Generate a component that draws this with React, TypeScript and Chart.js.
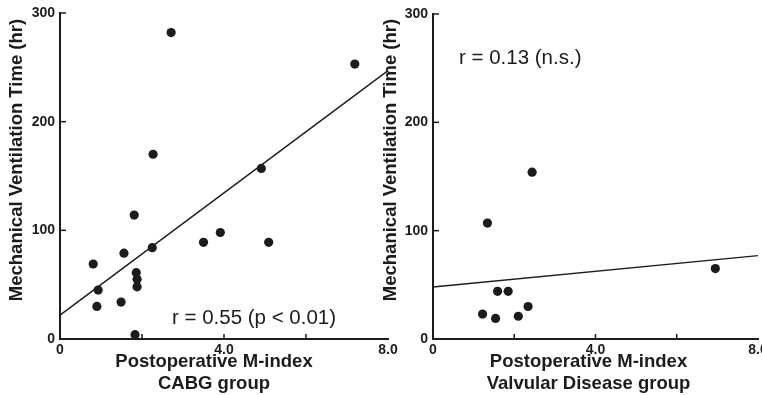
import React, { useEffect, useRef } from "react";
import { Chart, registerables } from "chart.js";

Chart.register(...registerables);

// ---------- data ----------
const cabgX = [2.71, 7.19, 2.27, 4.91, 1.81, 3.5, 3.91, 5.09, 2.25, 1.56, 0.81, 1.86, 1.88, 1.88, 0.93, 0.9, 1.49, 1.83];
const cabgY = [282, 253, 170, 157, 114, 89, 98, 89, 84, 79, 69, 61, 55, 48, 45, 30, 34, 4];
const cabgFitX = [0, 8];
const cabgFitY = [22, 247];

const valvX = [2.44, 1.34, 1.59, 1.85, 1.22, 1.54, 2.1, 2.34, 6.95];
const valvY = [154, 107, 44, 44, 23, 19, 21, 30, 65];
const valvFitX = [0, 8];
const valvFitY = [48, 77];

const xTickValues = [0, 2, 4, 6, 8];
const xTickLabels = ["0", "", "4.0", "", "8.0"];
const yTickValues = [0, 100, 200, 300];
const yTickLabels = ["0", "100", "200", "300"];

const yTitle = "Mechanical Ventilation Time (hr)";
const xTitle1 = "Postoperative M-index";
const cabgGroup = "CABG group";
const valvGroup = "Valvular Disease group";
const cabgStat = "r = 0.55 (p < 0.01)";
const valvStat = "r = 0.13 (n.s.)";

// ---------- styles ----------
const INK = "#1c1c1c";
const FONT = '"Liberation Sans", Arial, Helvetica, sans-serif';

type PanelSpec = {
  xs: number[];
  ys: number[];
  fx: number[];
  fy: number[];
  yAxisWidth: number;
  padTop: number;
  padRight: number;
  xAxisHeight: number;
  group: string;
  stat: string;
  statDx: number;
  statY: number;
  yTitleX: number;
  titleDx: number;
};

function makeTextPlugin(spec: PanelSpec) {
  return {
    id: "panelTexts",
    afterDraw(chart: any) {
      const { ctx, chartArea, scales } = chart;
      const xs = scales.x;
      const ys = scales.y;
      ctx.save();
      // inward tick marks
      ctx.strokeStyle = INK;
      ctx.lineWidth = 1.5;
      ys.ticks.forEach((t: any) => {
        if (t.value === 0) return;
        const py = ys.getPixelForValue(t.value);
        ctx.beginPath();
        ctx.moveTo(chartArea.left, py);
        ctx.lineTo(chartArea.left + 6, py);
        ctx.stroke();
      });
      xs.ticks.forEach((t: any) => {
        if (t.value === 0 || t.value === 8) return;
        const px = xs.getPixelForValue(t.value);
        ctx.beginPath();
        ctx.moveTo(px, chartArea.bottom);
        ctx.lineTo(px, chartArea.bottom - 5);
        ctx.stroke();
      });
      ctx.fillStyle = INK;
      // y title
      ctx.save();
      ctx.translate(spec.yTitleX, 160);
      ctx.rotate(-Math.PI / 2);
      ctx.font = `bold 18.5px ${FONT}`;
      ctx.textAlign = "center";
      ctx.textBaseline = "middle";
      ctx.fillText(yTitle, 0, 0);
      ctx.restore();
      // x titles
      ctx.font = `bold 18.5px ${FONT}`;
      ctx.textAlign = "center";
      ctx.textBaseline = "middle";
      const cx = (chartArea.left + chartArea.right) / 2 + spec.titleDx;
      ctx.fillText(xTitle1, cx, 362);
      ctx.fillText(spec.group, cx, 384);
      // stat text
      ctx.font = `20.5px ${FONT}`;
      ctx.textAlign = "left";
      ctx.fillText(spec.stat, chartArea.left + spec.statDx, spec.statY);
      ctx.restore();
    },
  };
}

function buildChart(canvas: HTMLCanvasElement, spec: PanelSpec) {
  const pts = spec.xs.map((x, i) => ({ x, y: spec.ys[i] }));
  const fit = spec.fx.map((x, i) => ({ x, y: spec.fy[i] }));
  return new Chart(canvas, {
    type: "scatter",
    data: {
      datasets: [
        {
          data: pts,
          backgroundColor: INK,
          borderWidth: 0,
          pointRadius: 4.6,
          pointHoverRadius: 4.6,
          clip: false as any,
        },
        {
          data: fit,
          showLine: true,
          borderColor: INK,
          borderWidth: 1.4,
          pointRadius: 0,
          fill: false,
          clip: false as any,
        },
      ],
    },
    options: {
      animation: false,
      responsive: false,
      devicePixelRatio: 1,
      events: [],
      layout: {
        autoPadding: false,
        padding: { left: 0, top: spec.padTop, right: spec.padRight, bottom: 0 },
      },
      plugins: {
        legend: { display: false },
        tooltip: { enabled: false },
      },
      scales: {
        x: {
          type: "linear",
          min: 0,
          max: 8,
          afterBuildTicks: (s: any) => {
            s.ticks = xTickValues.map((v) => ({ value: v }));
          },
          afterFit: (s: any) => {
            s.height = spec.xAxisHeight;
            s.paddingLeft = 0;
            s.paddingRight = 0;
          },
          ticks: {
            autoSkip: false,
            maxRotation: 0,
            padding: 3,
            color: INK,
            font: { family: FONT, size: 14, weight: "bold" },
            callback: (v: any) => {
              const i = xTickValues.indexOf(Number(v));
              return i >= 0 ? xTickLabels[i] : "";
            },
          },
          grid: { display: false, drawTicks: false },
          border: { display: true, color: INK, width: 2 },
        },
        y: {
          type: "linear",
          min: 0,
          max: 300,
          afterBuildTicks: (s: any) => {
            s.ticks = yTickValues.map((v) => ({ value: v }));
          },
          afterFit: (s: any) => {
            s.width = spec.yAxisWidth;
            s.paddingTop = 0;
            s.paddingBottom = 0;
          },
          ticks: {
            padding: 5,
            color: INK,
            font: { family: FONT, size: 14, weight: "bold" },
            callback: (v: any) => {
              const i = yTickValues.indexOf(Number(v));
              return i >= 0 ? yTickLabels[i] : "";
            },
          },
          grid: { display: false, drawTicks: false },
          border: { display: true, color: INK, width: 2 },
        },
      },
    },
    plugins: [makeTextPlugin(spec)],
  } as any);
}

export default function App() {
  const leftRef = useRef<HTMLCanvasElement>(null);
  const rightRef = useRef<HTMLCanvasElement>(null);

  useEffect(() => {
    document.body.style.margin = "0";
    const left = buildChart(leftRef.current!, {
      xs: cabgX,
      ys: cabgY,
      fx: cabgFitX,
      fy: cabgFitY,
      yAxisWidth: 60,
      padTop: 13,
      padRight: 12,
      xAxisHeight: 56,
      group: cabgGroup,
      stat: cabgStat,
      statDx: 112,
      statY: 318,
      yTitleX: 17,
      titleDx: -10,
    });
    const right = buildChart(rightRef.current!, {
      xs: valvX,
      ys: valvY,
      fx: valvFitX,
      fy: valvFitY,
      yAxisWidth: 61,
      padTop: 14,
      padRight: 4,
      xAxisHeight: 56,
      group: valvGroup,
      stat: valvStat,
      statDx: 26,
      statY: 58,
      yTitleX: 19,
      titleDx: -7,
    });
    return () => {
      left.destroy();
      right.destroy();
    };
  }, []);

  return (
    <div style={{ position: "absolute", left: 0, top: 0, width: 762, height: 395, background: "#fff", overflow: "hidden" }}>
      <canvas ref={leftRef} width={400} height={395} style={{ position: "absolute", left: 0, top: 0, width: 400, height: 395 }} />
      <canvas ref={rightRef} width={390} height={395} style={{ position: "absolute", left: 372, top: 0, width: 390, height: 395 }} />
    </div>
  );
}
